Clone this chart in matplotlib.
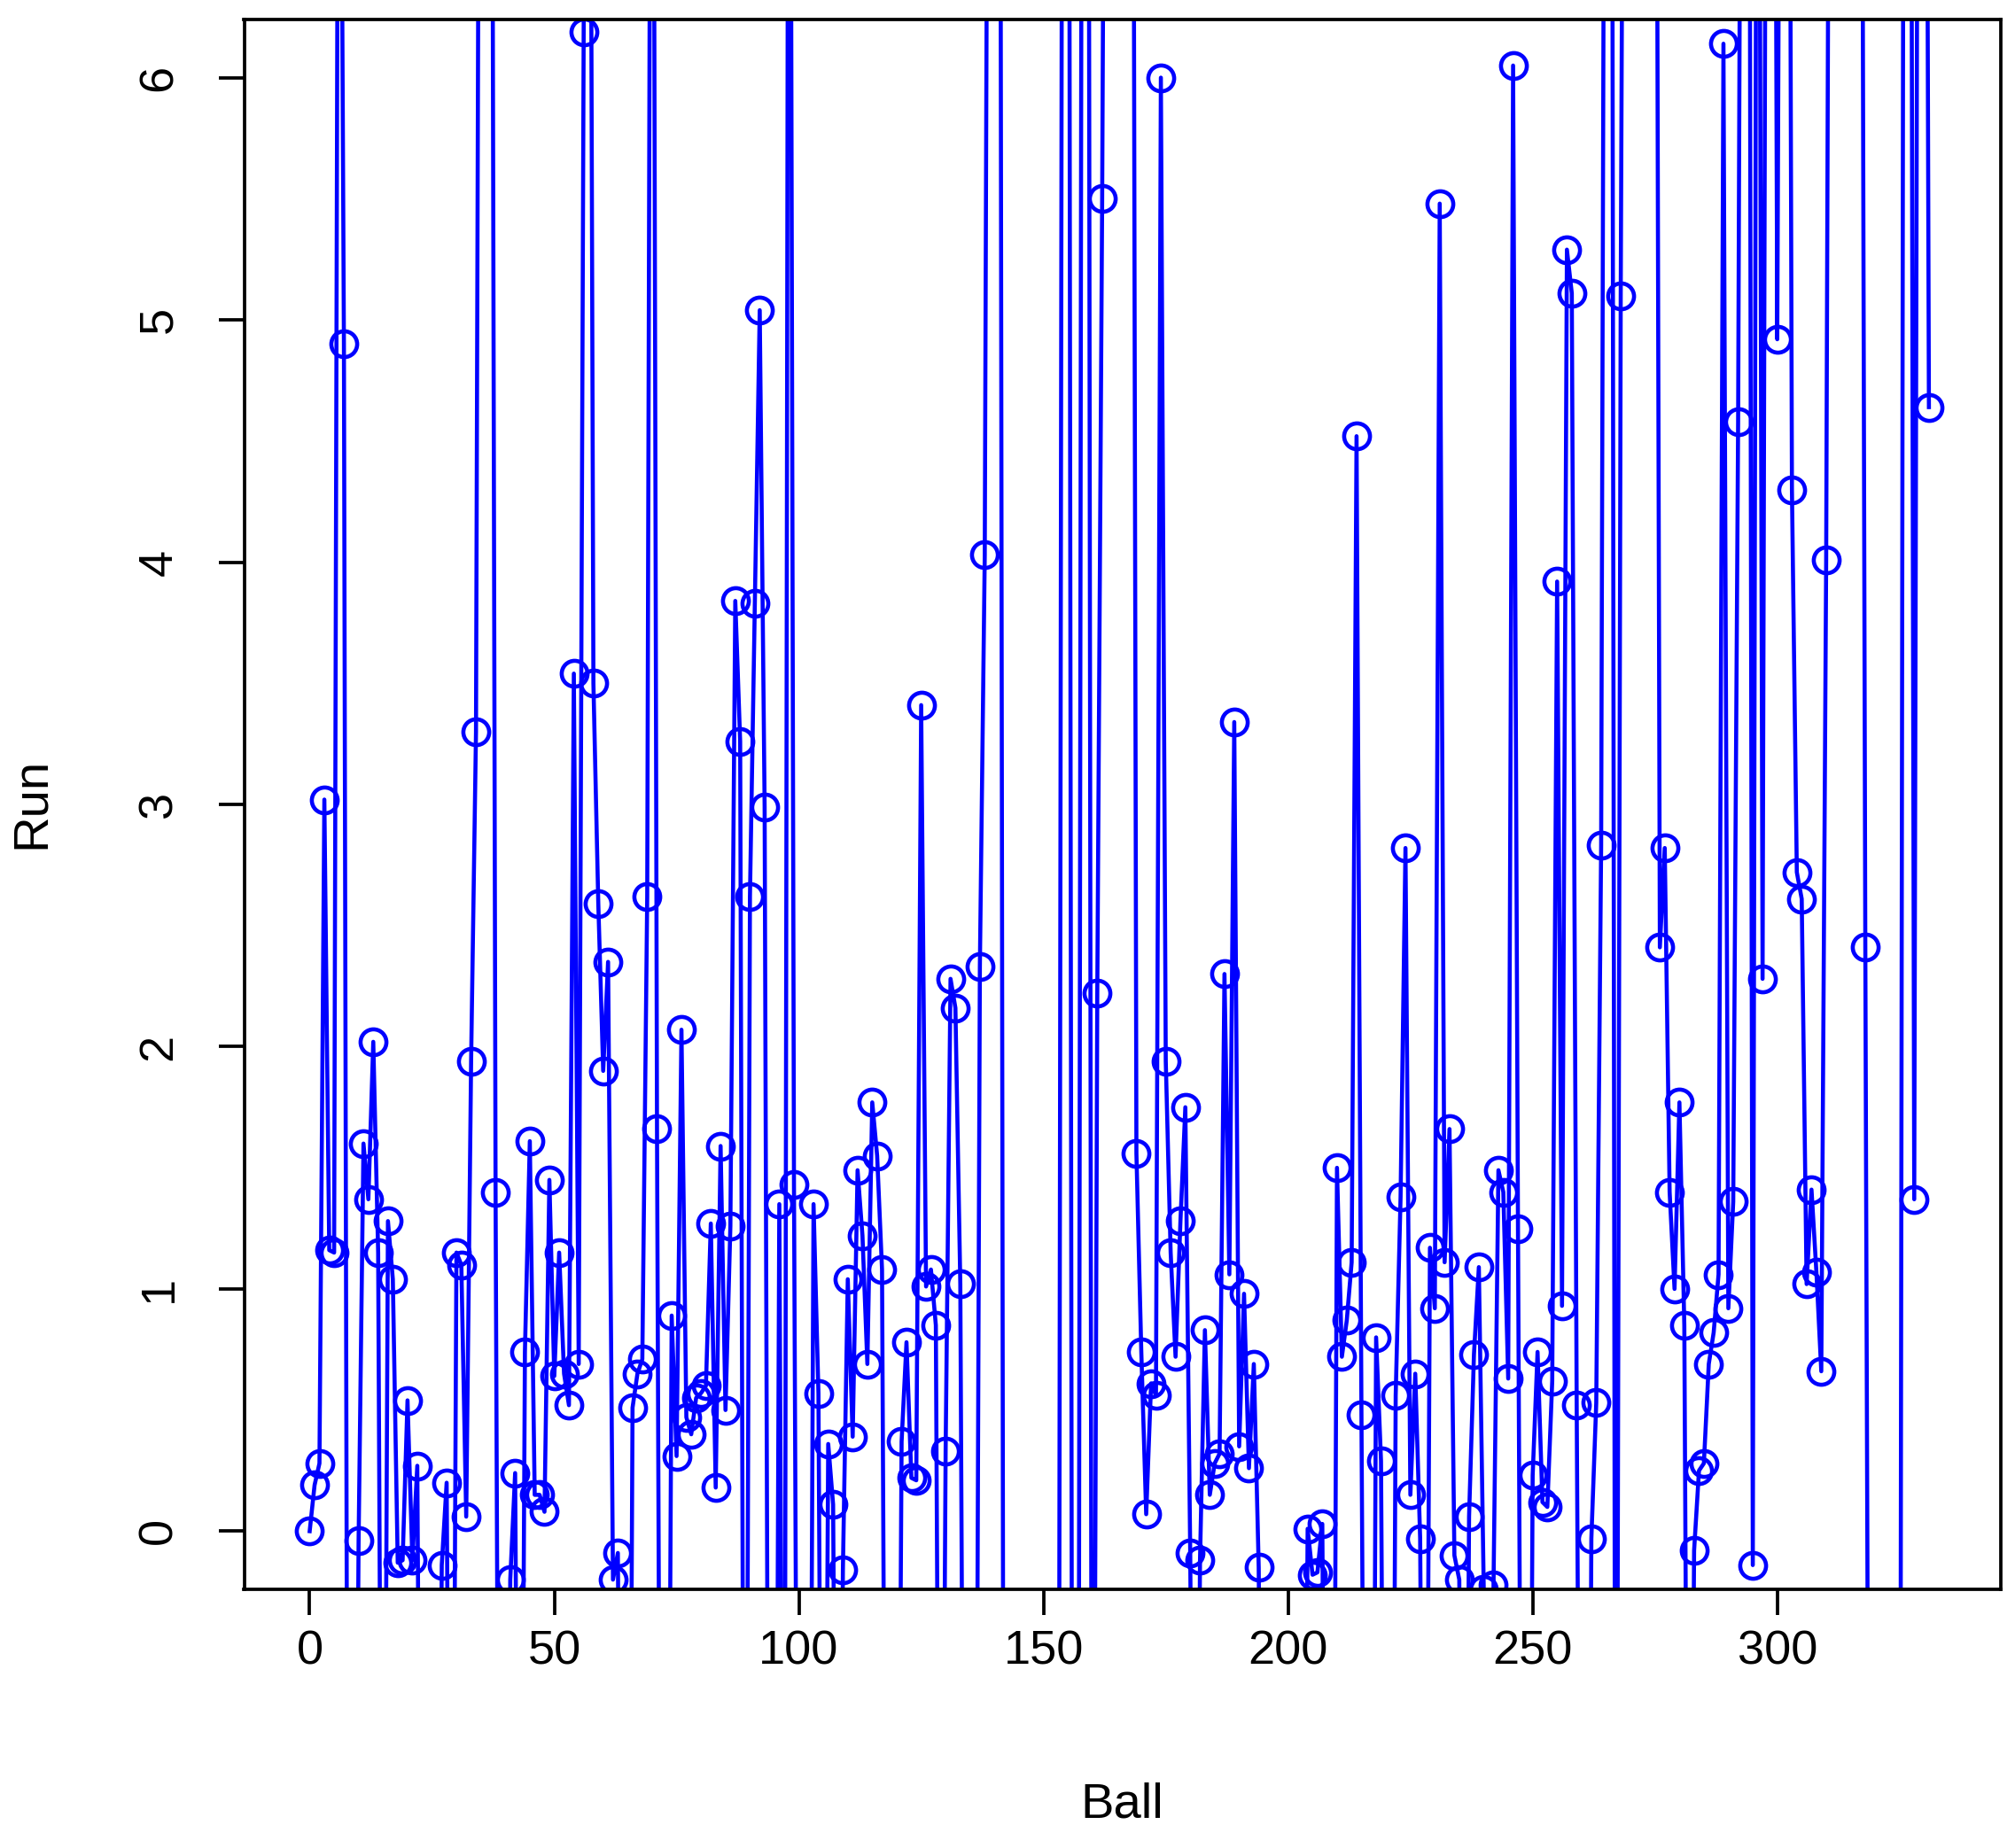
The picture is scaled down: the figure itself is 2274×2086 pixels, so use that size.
import numpy as np
import matplotlib.pyplot as plt

plt.rcParams['font.family'] = ['Liberation Sans', 'DejaVu Sans']

# runs per ball; points off the plot range are rough guesses
run = [
    0.00, 0.19, 0.28, 3.02, 1.16, 1.15, 9.0, 4.90, -4.0, -3.0,
    -0.04, 1.60, 1.37, 2.02, 1.15, -3.0, 1.28, 1.04, -0.13, -0.12,
    0.54, -0.12, 0.27, -3.0, -4.0, -3.5, -3.0, -0.14, 0.20, -3.0,
    1.15, 1.10, 0.06, 1.94, 3.30, 10.0, 11.0, 10.0, 1.40, -3.5,
    -4.0, -0.20, 0.24, -3.0, 0.74, 1.61, 0.15, 0.15, 0.08, 1.45,
    0.64, 1.15, 0.65, 0.52, 3.54, 0.69, 6.19, 10.0, 3.50, 2.59,
    1.90, 2.35, -0.20, -0.09, -3.0, -3.5, 0.51, 0.65, 0.71, 2.62,
    10.0, 1.66, -3.5, -3.0, 0.89, 0.31, 2.07, 0.47, 0.40, 0.55,
    0.57, 0.60, 1.27, 0.18, 1.59, 0.50, 1.26, 3.84, 3.26, -3.5,
    2.62, 3.83, 5.04, 2.99, -3.0, -3.5, 1.35, -3.0, 10.0, 1.43,
    -3.0, -4.0, -3.0, 1.35, 0.57, -3.0, 0.36, 0.11, -3.0, -0.16,
    1.04, 0.39, 1.49, 1.22, 0.69, 1.77, 1.55, 1.08, -3.0, -4.0,
    -3.0, 0.37, 0.78, 0.22, 0.21, 3.41, 1.01, 1.08, 0.85, -3.0,
    0.33, 2.28, 2.16, 1.02, -3.0, -4.0, -3.0, 2.33, 4.03, 10.0,
    11.0, 10.0, -4.0, -3.5, -4.0, -3.0, -4.0, -3.5, -3.0, -4.0,
    -3.5, -4.0, -3.0, -3.5, 10.0, 11.0, -3.5, -4.0, 10.0, 11.0,
    -3.5, 2.22, 5.50, 10.0, 11.0, 10.0, 12.0, 10.0, 11.0, 1.56,
    0.74, 0.07, 0.61, 0.56, 6.00, 1.94, 1.15, 0.72, 1.28, 1.75,
    -0.09, -3.0, -0.12, 0.83, 0.15, 0.28, 0.32, 2.30, 1.06, 3.34,
    0.35, 0.98, 0.26, 0.69, -0.15, -3.0, -4.0, -3.5, -3.0, -4.0,
    -3.0, -3.5, -4.0, -3.0, 0.01, -0.18, -0.17, 0.03, -3.0, -3.5,
    1.50, 0.72, 0.87, 1.11, 4.52, 0.48, -3.0, -3.5, 0.80, 0.29,
    -3.0, -3.5, 0.56, 1.38, 2.82, 0.15, 0.65, -0.03, -3.0, 1.17,
    0.92, 5.48, 1.11, 1.66, -0.10, -0.20, -3.0, 0.06, 0.73, 1.09,
    -0.24, -3.0, -0.22, 1.49, 1.40, 0.63, 6.05, 1.25, -3.0, -3.5,
    0.23, 0.74, 0.12, 0.10, 0.62, 3.92, 0.93, 5.29, 5.11, 0.52,
    -3.0, -3.5, -0.03, 0.53, 2.83, 10.0, 11.0, -3.5, 5.10, 10.0,
    11.0, 10.0, 12.0, 10.0, 11.0, 10.0, 2.41, 2.82, 1.40, 1.00,
    1.77, 0.85, -3.0, -0.08, 0.25, 0.28, 0.69, 0.82, 1.06, 6.14,
    0.92, 1.36, 4.58, 10.0, 11.0, -0.14, 10.0, 2.28, 10.0, 11.0,
    4.92, 10.0, 11.0, 4.30, 2.72, 2.61, 1.02, 1.41, 1.07, 0.66,
    4.01, 10.0, 11.0, 10.0, 12.0, 10.0, 11.0, 10.0, 2.41, -3.5,
    -4.0, -3.0, -3.5, -4.0, -3.0, -3.5, 10.0, 11.0, 1.37, 10.0,
    11.0, 4.64,
]
ball = np.arange(len(run))

x_ticks = [0, 50, 100, 150, 200, 250, 300]
y_ticks = [0, 1, 2, 3, 4, 5, 6]

W, H = 2274, 2086
fig = plt.figure(figsize=(W / 300, H / 300), dpi=300)
# plot box measured in pixels on the reference
left, right, top, bottom = 275.5, 2258, 22, 1794
ax = fig.add_axes([left / W, 1 - bottom / H, (right - left) / W, (bottom - top) / H])

ax.plot(ball, run, color="blue", lw=1.1, marker="o", ms=7.0,
        mfc="none", mec="blue", mew=1.1)

ax.set_xlim(-13.4, 345.7)
ax.set_ylim(-0.24, 6.24)
ax.set_xticks(x_ticks)
ax.set_yticks(y_ticks)
ax.set_yticklabels([str(v) for v in y_ticks], rotation=90, va="center")
ax.tick_params(direction="out", length=7, width=0.9, labelsize=13)
ax.tick_params(axis="x", pad=4)
ax.tick_params(axis="y", pad=10)
for s in ax.spines.values():
    s.set_linewidth(0.9)

fig.text(0.5 * (left + right) / W, 1 - 2038 / H, "Ball", ha="center", va="center", fontsize=13.5)
fig.text(36 / W, 1 - 906 / H, "Run", ha="center", va="center", rotation=90, fontsize=13.5)

fig.savefig("out.png", dpi=300)
